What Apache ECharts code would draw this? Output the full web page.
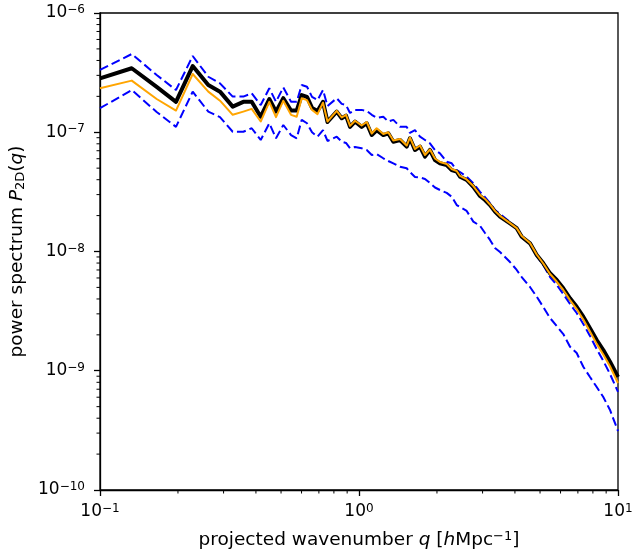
<!DOCTYPE html>
<html><head><meta charset="utf-8">
<script src="https://cdn.jsdelivr.net/npm/echarts@6/dist/echarts.min.js"></script>
<style>html,body{margin:0;padding:0;background:#fff}#c{width:634px;height:553px}</style>
</head><body><div id="c"></div>
<script>
// projected wavenumber q [h/Mpc]
const q = [0.1, 0.1326, 0.1655, 0.1965, 0.228, 0.2619, 0.2906, 0.3254, 0.3575, 0.3852,
  0.4174, 0.4505, 0.4781, 0.5102, 0.5465, 0.5747, 0.6009, 0.6298, 0.6586, 0.6916,
  0.7261, 0.7557, 0.8203, 0.8575, 0.8909, 0.9232, 0.965, 1.024, 1.071, 1.12,
  1.17, 1.241, 1.297, 1.357, 1.44, 1.528, 1.573, 1.645, 1.72, 1.798,
  1.879, 1.965, 2.054, 2.181, 2.28, 2.384, 2.455, 2.605, 2.763, 2.933,
  3.066, 3.205, 3.35, 3.503, 3.828, 4.064, 4.249, 4.573, 4.854, 5.147,
  5.465, 5.799, 6.149, 6.527, 6.926, 7.345, 7.796, 8.275, 8.774, 9.314, 10.0];
// thick black line
const meanP = [2.83e-7, 3.44e-7, 2.40e-7, 1.80e-7, 3.59e-7, 2.49e-7, 2.19e-7, 1.64e-7, 1.80e-7, 1.80e-7,
  1.35e-7, 1.90e-7, 1.49e-7, 1.93e-7, 1.52e-7, 1.52e-7, 2.05e-7, 1.98e-7, 1.60e-7, 1.51e-7,
  1.80e-7, 1.22e-7, 1.49e-7, 1.31e-7, 1.38e-7, 1.11e-7, 1.23e-7, 1.11e-7, 1.19e-7, 9.48e-8,
  1.04e-7, 9.48e-8, 9.80e-8, 8.33e-8, 8.61e-8, 7.57e-8, 8.90e-8, 7.10e-8, 7.57e-8, 6.24e-8,
  7.10e-8, 5.85e-8, 5.49e-8, 5.31e-8, 4.82e-8, 4.67e-8, 4.24e-8, 3.98e-8, 3.49e-8, 2.92e-8,
  2.70e-8, 2.45e-8, 2.16e-8, 1.96e-8, 1.72e-8, 1.57e-8, 1.33e-8, 1.17e-8, 9.35e-9, 7.96e-9,
  6.57e-9, 5.77e-9, 4.91e-9, 4.05e-9, 3.44e-9, 2.84e-9, 2.27e-9, 1.81e-9, 1.49e-9, 1.19e-9, 8.86e-10];
// orange line
const orangeP = [2.34e-7, 2.71e-7, 1.90e-7, 1.52e-7, 3.08e-7, 2.19e-7, 1.84e-7, 1.40e-7, 1.49e-7, 1.57e-7,
  1.23e-7, 1.80e-7, 1.34e-7, 1.84e-7, 1.40e-7, 1.35e-7, 1.93e-7, 1.86e-7, 1.54e-7, 1.42e-7,
  1.77e-7, 1.23e-7, 1.51e-7, 1.33e-7, 1.40e-7, 1.13e-7, 1.25e-7, 1.14e-7, 1.22e-7, 9.76e-8,
  1.08e-7, 9.67e-8, 1.00e-7, 8.53e-8, 8.78e-8, 7.74e-8, 9.04e-8, 7.24e-8, 7.74e-8, 6.45e-8,
  7.17e-8, 6.02e-8, 5.63e-8, 5.42e-8, 4.92e-8, 4.73e-8, 4.30e-8, 4.02e-8, 3.54e-8, 2.98e-8,
  2.76e-8, 2.48e-8, 2.19e-8, 1.99e-8, 1.73e-8, 1.57e-8, 1.35e-8, 1.18e-8, 9.44e-9, 7.93e-9,
  6.48e-9, 5.60e-9, 4.76e-9, 3.92e-9, 3.29e-9, 2.69e-9, 2.13e-9, 1.68e-9, 1.37e-9, 1.09e-9, 7.89e-10];
// upper dashed blue
const upperP = [3.33e-7, 4.53e-7, 3.02e-7, 2.26e-7, 4.36e-7, 2.92e-7, 2.57e-7, 1.99e-7, 1.99e-7, 2.12e-7,
  1.69e-7, 2.34e-7, 1.80e-7, 2.38e-7, 1.80e-7, 1.80e-7, 2.49e-7, 2.41e-7, 1.98e-7, 1.86e-7,
  2.26e-7, 1.66e-7, 1.93e-7, 1.73e-7, 1.69e-7, 1.45e-7, 1.54e-7, 1.54e-7, 1.51e-7, 1.40e-7,
  1.32e-7, 1.35e-7, 1.23e-7, 1.27e-7, 1.11e-7, 1.11e-7, 9.86e-8, 1.04e-7, 9.18e-8, 8.61e-8,
  8.08e-8, 7.10e-8, 6.66e-8, 5.66e-8, 5.49e-8, 4.82e-8, 4.64e-8, 4.24e-8, 3.73e-8, 3.16e-8,
  2.86e-8, 2.55e-8, 2.23e-8, 2.06e-8, 1.77e-8, 1.57e-8, 1.35e-8, 1.16e-8, 9.17e-9, 7.71e-9,
  6.11e-9, 5.24e-9, 4.40e-9, 3.63e-9, 3.05e-9, 2.47e-9, 1.96e-9, 1.52e-9, 1.21e-9, 9.39e-10, 6.64e-10];
// lower dashed blue
const lowerP = [1.59e-7, 2.26e-7, 1.48e-7, 1.11e-7, 2.19e-7, 1.49e-7, 1.34e-7, 1.01e-7, 1.01e-7, 1.08e-7,
  8.61e-8, 1.19e-7, 8.90e-8, 1.15e-7, 9.48e-8, 8.90e-8, 1.27e-7, 1.19e-7, 1.00e-7, 9.18e-8,
  1.04e-7, 8.45e-8, 9.18e-8, 8.33e-8, 8.13e-8, 7.34e-8, 7.52e-8, 7.34e-8, 7.10e-8, 6.45e-8,
  6.57e-8, 6.05e-8, 5.74e-8, 5.49e-8, 5.14e-8, 4.99e-8, 4.64e-8, 4.21e-8, 4.17e-8, 4.06e-8,
  3.75e-8, 3.44e-8, 3.28e-8, 3.10e-8, 2.88e-8, 2.45e-8, 2.36e-8, 2.19e-8, 1.78e-8, 1.64e-8,
  1.43e-8, 1.25e-8, 1.07e-8, 9.90e-9, 8.16e-9, 7.00e-9, 6.11e-9, 5.04e-9, 4.18e-9, 3.42e-9,
  2.77e-9, 2.37e-9, 2.03e-9, 1.59e-9, 1.41e-9, 1.08e-9, 8.86e-10, 7.31e-10, 6.02e-10, 4.69e-10, 3.12e-10];

const xMin = 0.1, xMax = 10, yMin = 1e-10, yMax = 1e-6;
const xMinorTicks = [0.2,0.3,0.4,0.5,0.6,0.7,0.8,0.9,2,3,4,5,6,7,8,9];
const yMinorTicks = [];
[1e-10,1e-9,1e-8,1e-7].forEach(d => { for (let m = 2; m <= 9; m++) yMinorTicks.push(+(m*d).toPrecision(3)); });

const FONT = 'DejaVu Sans';
const FS = 17, NFS = 18.5;
function powLabel(v) {
  const e = Math.round(Math.log10(v));
  const s = e < 0 ? '\u2212' + (-e) : '' + e;
  return '{b|10}{s|' + s + '}';
}
const tickRich = {
  b: {fontFamily: FONT, fontSize: FS, color: '#000'},
  s: {fontFamily: FONT, fontSize: 12, color: '#000', padding: [0, 0, 6, 0]}
};
const nameRich = {
  n: {fontFamily: FONT, fontSize: NFS, color: '#000'},
  i: {fontFamily: FONT, fontSize: NFS, color: '#000', fontStyle: 'italic'},
  s: {fontFamily: FONT, fontSize: 13, color: '#000', padding: [0, 0, 7, 0]},
  d: {fontFamily: FONT, fontSize: 13, color: '#000', padding: [6, 0, 0, 0]}
};

const pair = arr => q.map((x, i) => [x, arr[i]]);

const chart = echarts.init(document.getElementById('c'), null, {renderer: 'canvas'});
chart.setOption({
  animation: false,
  backgroundColor: '#fff',
  grid: {left: 100, right: 16, top: 13, bottom: 63, show: true, borderColor: '#000', borderWidth: 1.3, outerBoundsMode: 'none'},
  xAxis: {
    type: 'log', logBase: 10, min: xMin, max: xMax,
    axisLine: {show: true, lineStyle: {color: '#000', width: 1.3}},
    axisTick: {show: true, length: 6, lineStyle: {color: '#000', width: 1.3}},
    splitLine: {show: false},
    axisLabel: {margin: 13, formatter: powLabel, rich: tickRich},
    name: '{n|projected wavenumber }{i|q}{n| [}{i|h}{n|Mpc}{s|\u22121}{n|]}',
    nameLocation: 'middle', nameGap: 40,
    nameTextStyle: {rich: nameRich}
  },
  yAxis: {
    type: 'log', logBase: 10, min: yMin, max: yMax,
    axisLine: {show: true, lineStyle: {color: '#000', width: 1.3}},
    axisTick: {show: true, length: 6, lineStyle: {color: '#000', width: 1.3}},
    splitLine: {show: false},
    axisLabel: {margin: 15, formatter: powLabel, rich: tickRich},
    name: '{n|power spectrum }{i|P}{d|2D}{n|(}{i|q}{n|)}',
    nameLocation: 'middle', nameGap: 70, nameRotate: 90,
    nameTextStyle: {rich: nameRich}
  },
  series: [
    {type: 'line', data: pair(upperP), showSymbol: false, symbol: 'none', z: 2,
     lineStyle: {color: '#0000ff', width: 2, type: [9, 4]}},
    {type: 'line', data: pair(lowerP), showSymbol: false, symbol: 'none', z: 2,
     lineStyle: {color: '#0000ff', width: 2, type: [9, 4]}},
    {type: 'line', data: pair(meanP), showSymbol: false, symbol: 'none', z: 3,
     lineStyle: {color: '#000000', width: 4, join: 'round'}},
    {type: 'line', data: pair(orangeP), showSymbol: false, symbol: 'none', z: 4,
     lineStyle: {color: '#ffa500', width: 2, join: 'round'}},
    {type: 'custom', silent: true, clip: false, z: 5,
     data: xMinorTicks.map(v => [v, yMin]),
     renderItem: (params, api) => {
       const p = api.coord([api.value(0), api.value(1)]);
       return {type: 'line', shape: {x1: p[0], y1: p[1], x2: p[0], y2: p[1] + 3.5},
               style: {stroke: '#000', lineWidth: 1}};
     }},
    {type: 'custom', silent: true, clip: false, z: 5,
     data: yMinorTicks.map(v => [xMin, v]),
     renderItem: (params, api) => {
       const p = api.coord([api.value(0), api.value(1)]);
       return {type: 'line', shape: {x1: p[0], y1: p[1], x2: p[0] - 3.5, y2: p[1]},
               style: {stroke: '#000', lineWidth: 1}};
     }}
  ]
});
</script></body></html>
